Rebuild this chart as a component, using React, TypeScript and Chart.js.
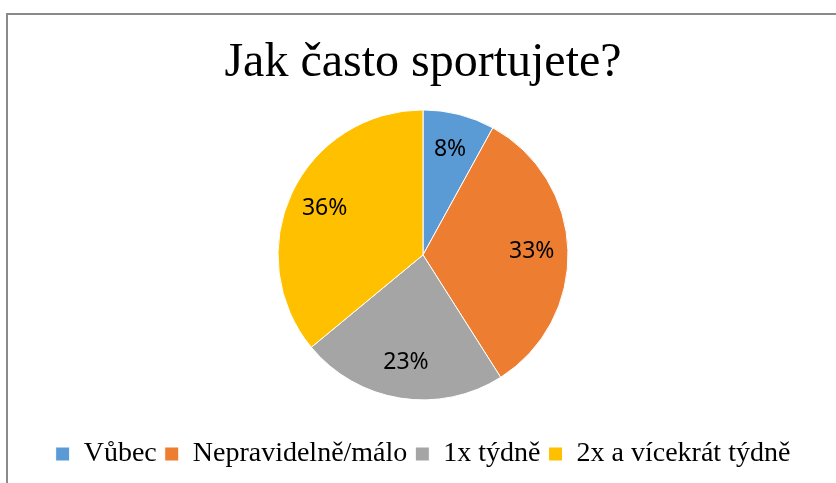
import React, { useEffect, useRef } from "react";
import { Chart, registerables } from "chart.js";

Chart.register(...registerables);

const titleText = "Jak často sportujete?";
const categories = ["Vůbec", "Nepravidelně/málo", "1x týdně", "2x a vícekrát týdně"];
const values = [8, 33, 23, 36];
const colors = ["#5B9BD5", "#ED7D31", "#A5A5A5", "#FFC000"];

const serif = "'Liberation Serif', 'Times New Roman', serif";

const sliceLabels = {
  id: "sliceLabels",
  afterDatasetsDraw(chart: any) {
    const { ctx } = chart;
    const meta = chart.getDatasetMeta(0);
    const data = chart.data.datasets[0].data as number[];
    const total = data.reduce((a, b) => a + b, 0);
    ctx.save();
    ctx.font = "23px 'Noto Sans'";
    ctx.fillStyle = "#000";
    ctx.textAlign = "center";
    ctx.textBaseline = "middle";
    meta.data.forEach((arc: any, i: number) => {
      const { x, y, startAngle, endAngle, outerRadius } = arc.getProps(
        ["x", "y", "startAngle", "endAngle", "outerRadius"],
        true
      );
      const mid = (startAngle + endAngle) / 2;
      const r = outerRadius * 0.75;
      ctx.fillText(
        Math.round((data[i] / total) * 100) + "%",
        x + Math.cos(mid) * r,
        y + Math.sin(mid) * r
      );
    });
    ctx.restore();
  },
};

export default function App() {
  const ref = useRef<HTMLCanvasElement>(null);

  useEffect(() => {
    if (!ref.current) return;
    const chart = new Chart(ref.current, {
      type: "pie",
      data: {
        labels: categories,
        datasets: [
          {
            data: values,
            backgroundColor: colors,
            borderColor: "#ffffff",
            borderWidth: 1,
          },
        ],
      },
      options: {
        animation: false,
        responsive: true,
        maintainAspectRatio: false,
        radius: 145,
        layout: { padding: { left: 10, top: 0, right: 0, bottom: 5 } },
        plugins: {
          tooltip: { enabled: false },
          title: {
            display: true,
            text: titleText,
            color: "#000",
            font: { family: serif, size: 48, weight: "normal", lineHeight: 0.6 },
            padding: { top: 49, bottom: 0 },
          },
          legend: {
            display: true,
            position: "bottom",
            labels: {
              color: "#000",
              font: { family: serif, size: 28 },
              boxWidth: 14,
              boxHeight: 14,
              padding: 8,
            },
          },
        },
      },
      plugins: [sliceLabels],
    } as any);
    return () => chart.destroy();
  }, []);

  return (
    <div
      style={{
        position: "fixed",
        left: 0,
        top: 0,
        width: 836,
        height: 483,
        background: "#fff",
      }}
    >
      <div
        style={{
          position: "absolute",
          left: 6,
          top: 13,
          right: -4,
          bottom: -4,
          borderTop: "2px solid #8a8a8a",
          borderLeft: "2px solid #8a8a8a",
        }}
      />
      <div style={{ position: "absolute", left: 0, top: 0, width: 836, height: 483 }}>
        <canvas ref={ref} />
      </div>
    </div>
  );
}
